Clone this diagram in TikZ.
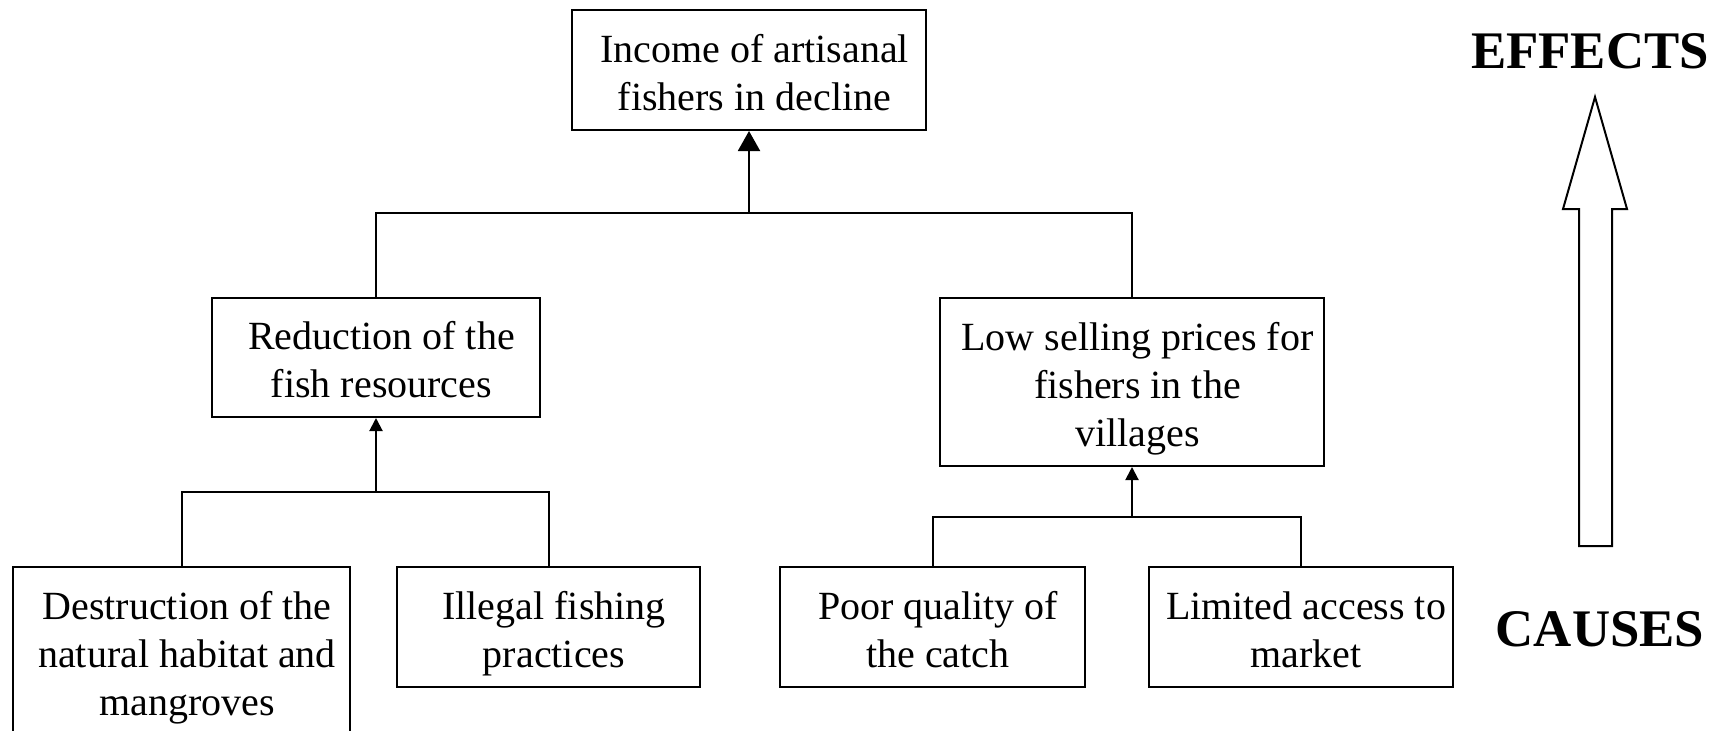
\documentclass[tikz,border=0pt]{standalone}
\usepackage{fontspec}
\setmainfont{Liberation Serif}
\usetikzlibrary{arrows.meta}
% box text: centred lines, nudged slightly right and down inside the frame
\newcommand{\boxlines}[1]{\hspace*{5.5pt}\raisebox{-3.2pt}[\height][\depth]{%
  \begin{tabular}{@{}c@{}}#1\end{tabular}}}
\begin{document}
\begin{tikzpicture}[x=0.5pt,y=-0.5pt,
  box/.style={draw, line width=1pt, inner sep=0pt,
    font=\fontsize{20}{24}\selectfont},
  link/.style={line width=1pt},
  bigup/.style={line width=1pt, -{Triangle[length=10pt,width=11pt]}},
  smallup/.style={line width=1pt, -{Triangle[length=6.5pt,width=6.5pt]}},
  tag/.style={font=\fontsize{26.4}{30}\selectfont\bfseries, anchor=base}]
\clip (0,0) rectangle (1722,730);
\fill[white] (0,0) rectangle (1722,730);

% effect at the top
\node[box, minimum width=177pt, minimum height=60pt] (inc) at (749,70)
  {\boxlines{Income of artisanal\\fishers in decline}};

% intermediate causes
\node[box, minimum width=164pt, minimum height=59.5pt] (red) at (376,357.5)
  {\boxlines{Reduction of the\\fish resources}};
\node[box, minimum width=192pt, minimum height=84pt] (low) at (1132,382)
  {\boxlines{Low selling prices for\\fishers in the\\villages}};

% root causes
\node[box, minimum width=168.5pt, minimum height=84pt] (dest) at (181.5,651)
  {\boxlines{Destruction of the\\natural habitat and\\mangroves}};
\node[box, minimum width=151.5pt, minimum height=60pt] (ill) at (548.5,627)
  {\boxlines{Illegal fishing\\practices}};
\node[box, minimum width=152.5pt, minimum height=60pt] (poor) at (932.5,627)
  {\boxlines{Poor quality of\\the catch}};
\node[box, minimum width=152pt, minimum height=60pt] (lim) at (1300.5,627)
  {\boxlines{Limited access to\\market}};

% junction points of the tree
\coordinate (j1) at (inc.south |- 0,213);
\coordinate (j2) at (red.south |- 0,492);
\coordinate (j3) at (low.south |- 0,517);

\draw[link] (red.north) |- (j1) -| (low.north);
\draw[bigup] (j1) -- (inc.south);

\draw[link] (dest.north) |- (j2) -| (ill.north);
\draw[smallup] (j2) -- (red.south);

\draw[link] (poor.north) |- (j3) -| (lim.north);
\draw[smallup] (j3) -- (low.south);

% hollow arrow from causes to effects
\draw[line width=1pt, line join=miter]
  (1579,546) -- (1579,209) -- (1563,209) -- (1595,97) -- (1627,209)
  -- (1612,209) -- (1612,546) -- cycle;

\node[tag] (eff) at (1590,68.5) {EFFECTS};
\node[tag] (cau) at (1600,646) {CAUSES};
\end{tikzpicture}
\end{document}
